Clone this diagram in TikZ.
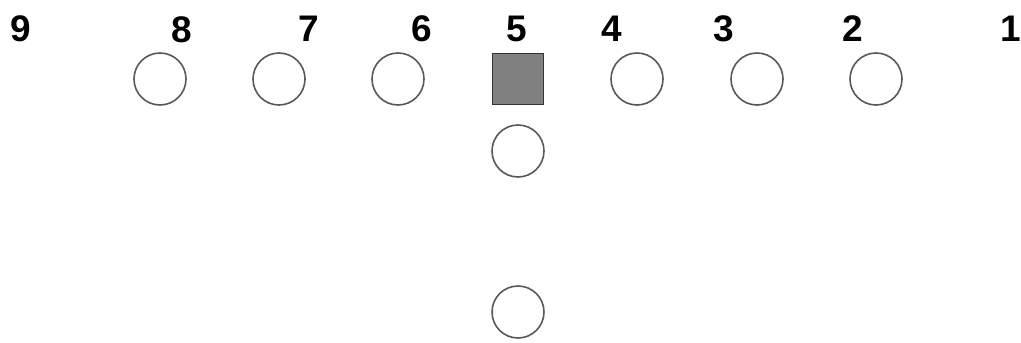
\documentclass[tikz,border=0pt]{standalone}
\usepackage{fontspec}
\setmainfont{Liberation Sans}
\begin{document}
\begin{tikzpicture}[x=1pt,y=-1pt,
  player/.style={circle,draw=black!65,line width=1.6pt,minimum size=52pt,inner sep=0pt},
  center/.style={rectangle,draw=black!80,fill=black!50,line width=1.4pt,minimum size=51pt,inner sep=0pt},
  num/.style={font=\fontsize{37}{37}\selectfont\bfseries,anchor=base,inner sep=0pt}]
\useasboundingbox (0,0) rectangle (1021,343);
\node[num] (n9) at (21,41) {9};
\node[num] (n8) at (182,42) {8};
\node[num] (n7) at (309,41) {7};
\node[num] (n6) at (422,41) {6};
\node[num] (n5) at (517,41) {5};
\node[num] (n4) at (612,41) {4};
\node[num] (n3) at (724,41) {3};
\node[num] (n2) at (853,41) {2};
\node[num] (n1) at (1011,41) {1};
\node[player] (p8) at (160,79) {};
\node[player] (p7) at (279,79) {};
\node[player] (p6) at (398,79) {};
\node[center] (c5) at (518,79) {};
\node[player] (p4) at (637,79) {};
\node[player] (p3) at (757,79) {};
\node[player] (p2) at (876,79) {};
\node[player] (q1) at (518,151) {};
\node[player] (q2) at (518,312) {};
\end{tikzpicture}
\end{document}
